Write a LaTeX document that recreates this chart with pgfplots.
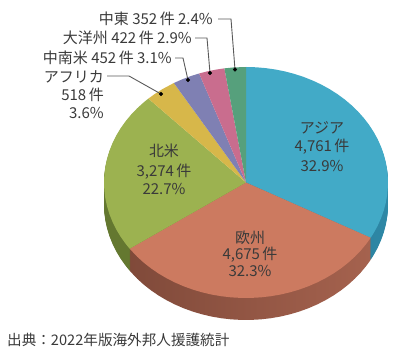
\documentclass[border=0pt]{standalone}
\usepackage{pgfplots}
\usepackage{pgfplotstable}
\usepackage{fontspec}
\pgfplotsset{compat=1.18}
\setmainfont{Noto Sans CJK JP}
\definecolor{txt}{HTML}{3A3A3A}
\definecolor{cAsia}{RGB}{66,170,199}
\definecolor{cEurope}{RGB}{204,122,96}
\definecolor{cNAm}{RGB}{156,178,80}
\definecolor{cAfrica}{RGB}{215,183,74}
\definecolor{cLatAm}{RGB}{127,128,179}
\definecolor{cOceania}{RGB}{201,109,142}
\definecolor{cMEast}{RGB}{86,160,124}
\definecolor{wAsL}{RGB}{36,112,140}
\definecolor{wAsR}{RGB}{46,136,166}
\definecolor{wEuL}{RGB}{128,74,58}
\definecolor{wEuM}{RGB}{136,80,63}
\definecolor{wEuR}{RGB}{165,98,78}
\definecolor{wNAm}{RGB}{100,120,48}
% angle (deg) and radius of each slice outline; counts 4761,4675,3274,518,452,422,352
\pgfplotstableread[row sep=\\]{a r\\0 0\\90 1\\86 1\\82 1\\78 1\\74 1\\70 1\\66 1\\62 1\\58 1\\54 1\\50 1\\46 1\\42 1\\38 1\\34 1\\30 1\\26 1\\22 1\\18 1\\14 1\\10 1\\6 1\\2 1\\-2 1\\-6 1\\-10 1\\-14 1\\-18 1\\-22 1\\-26 1\\-28.58 1\\}\tAsia
\pgfplotstableread[row sep=\\]{a r\\0 0\\-28.58 1\\-32 1\\-36 1\\-40 1\\-44 1\\-48 1\\-52 1\\-56 1\\-60 1\\-64 1\\-68 1\\-72 1\\-76 1\\-80 1\\-84 1\\-88 1\\-92 1\\-96 1\\-100 1\\-104 1\\-108 1\\-112 1\\-116 1\\-120 1\\-124 1\\-128 1\\-132 1\\-136 1\\-140 1\\-145.02 1\\}\tEurope
\pgfplotstableread[row sep=\\]{a r\\0 0\\-145.02 1\\-148 1\\-152 1\\-156 1\\-160 1\\-164 1\\-168 1\\-172 1\\-176 1\\-180 1\\-184 1\\-188 1\\-192 1\\-196 1\\-200 1\\-204 1\\-208 1\\-212 1\\-216 1\\-220 1\\-224 1\\-226.57 1\\}\tNAm
\pgfplotstableread[row sep=\\]{a r\\0 0\\-226.57 1\\-230 1\\-234 1\\-239.47 1\\}\tAfrica
\pgfplotstableread[row sep=\\]{a r\\0 0\\-239.47 1\\-243 1\\-247 1\\-250.73 1\\}\tLatAm
\pgfplotstableread[row sep=\\]{a r\\0 0\\-250.73 1\\-254 1\\-258 1\\-261.24 1\\}\tOceania
\pgfplotstableread[row sep=\\]{a r\\0 0\\-261.24 1\\-265 1\\-270 1\\}\tMEast
\begin{document}
\begin{tikzpicture}[x=1pt,y=1pt]
\useasboundingbox (0,0) rectangle (400,356);
\begin{axis}[at={(0,0)},anchor=south west,scale only axis,width=400pt,height=356pt,
  xmin=-1.7324,xmax=1.0845,ymin=-1.5022,ymax=1.5801,hide axis,clip=false]
\pgfplotsinvokeforeach{22,21,...,1}{
  \addplot[data cs=polar,draw=none,forget plot,left color=wAsL,right color=wAsR,yshift=-#1pt] table[x=a,y=r]{\tAsia};
  \addplot[data cs=polar,draw=none,forget plot,left color=wEuL,middle color=wEuM,right color=wEuR,yshift=-#1pt] table[x=a,y=r]{\tEurope};
  \addplot[data cs=polar,draw=none,forget plot,fill=wNAm,yshift=-#1pt] table[x=a,y=r]{\tNAm};
}
\addplot[data cs=polar,draw=none,fill=cAsia,forget plot] table[x=a,y=r]{\tAsia};
\addplot[data cs=polar,draw=none,fill=cEurope,forget plot] table[x=a,y=r]{\tEurope};
\addplot[data cs=polar,draw=none,fill=cNAm,forget plot] table[x=a,y=r]{\tNAm};
\addplot[data cs=polar,draw=none,fill=cAfrica,forget plot] table[x=a,y=r]{\tAfrica};
\addplot[data cs=polar,draw=none,fill=cLatAm,forget plot] table[x=a,y=r]{\tLatAm};
\addplot[data cs=polar,draw=none,fill=cOceania,forget plot] table[x=a,y=r]{\tOceania};
\addplot[data cs=polar,draw=none,fill=cMEast,forget plot] table[x=a,y=r]{\tMEast};
\end{axis}
\begin{axis}[at={(0,0)},anchor=south west,scale only axis,width=400pt,height=356pt,
  xmin=0,xmax=400,ymin=0,ymax=356,y dir=reverse,hide axis,clip=false]
\addplot[black!65,line width=0.9pt,forget plot] coordinates {(218,19)(231,19)(235,69.5)};
\addplot[black!65,line width=0.9pt,forget plot] coordinates {(195,38)(207,38)(210,73)};
\addplot[black!65,line width=0.9pt,forget plot] coordinates {(175,58)(183,58)(188,80)};
\addplot[black!65,line width=0.9pt,forget plot] coordinates {(107,76)(129,76)(161,94)};
\addplot[only marks,mark=*,mark size=1.9pt,black,forget plot] coordinates {(235,69.5)(210,73)(188,80)(161,94)};
\end{axis}
\tikzset{lab/.style={text=txt,font=\fontsize{15}{15}\selectfont,inner sep=0pt,anchor=base}}
\tikzset{labr/.style={lab,anchor=base east}}
\node[labr] at (213,331) {中東 352\,件 2.4\%};
\node[labr] at (192,312) {大洋州 422\,件 2.9\%};
\node[labr] at (172,292) {中南米 452\,件 3.1\%};
\node[labr] at (104,273) {アフリカ};
\node[labr] at (104,255) {518\,件};
\node[labr] at (104,237) {3.6\%};
\node[lab] at (322,222) {アジア};
\node[lab] at (322,204) {4,761\,件};
\node[lab] at (322,184) {32.9\%};
\node[lab] at (250,112) {欧州};
\node[lab] at (250,96) {4,675\,件};
\node[lab] at (250,79) {32.3\%};
\node[lab] at (164,199) {北米};
\node[lab] at (164,179) {3,274\,件};
\node[lab] at (164,161) {22.7\%};
\node[text=txt,font=\fontsize{14.6}{15}\selectfont,inner sep=0pt,anchor=base west] at (7,10) {出典：2022年版海外邦人援護統計};
\end{tikzpicture}
\end{document}
